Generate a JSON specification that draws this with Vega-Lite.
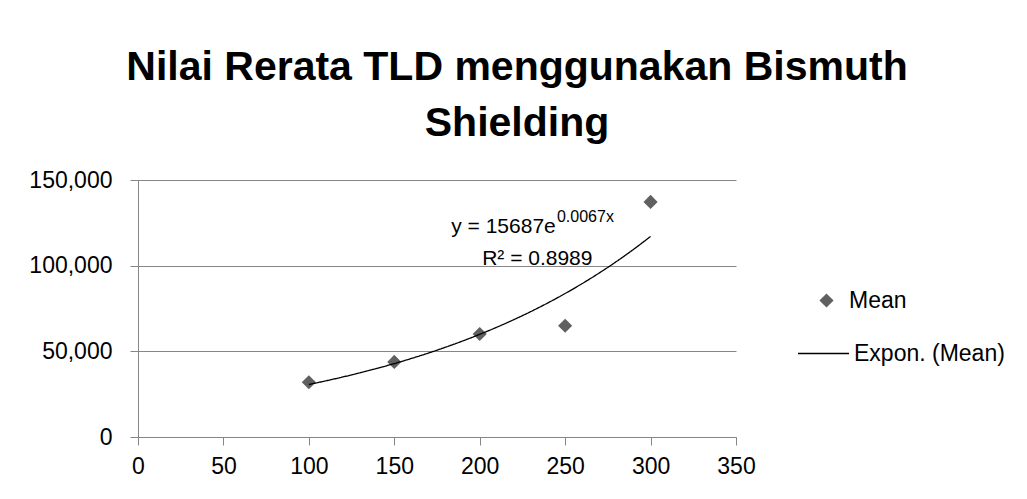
{
  "$schema": "https://vega.github.io/schema/vega-lite/v6.json",
  "width": 598,
  "height": 257,
  "autosize": "none",
  "padding": {"left": 138, "top": 180, "right": 291, "bottom": 62},
  "background": "white",
  "title": {
    "text": ["Nilai Rerata TLD menggunakan Bismuth", "Shielding"],
    "font": "Liberation Sans",
    "fontSize": 41,
    "fontWeight": "bold",
    "color": "#000000",
    "anchor": "middle",
    "frame": "group",
    "dx": 80,
    "lineHeight": 56,
    "offset": 24
  },
  "datasets": {
    "mean": [
      {"x": 100, "y": 31980},
      {"x": 150, "y": 43840},
      {"x": 200, "y": 60120},
      {"x": 250, "y": 64940},
      {"x": 300, "y": 137200}
    ],
    "trend": [
      {"x": 100, "y": 30656},
      {"x": 110, "y": 32780},
      {"x": 120, "y": 35052},
      {"x": 130, "y": 37481},
      {"x": 140, "y": 40078},
      {"x": 150, "y": 42855},
      {"x": 160, "y": 45825},
      {"x": 170, "y": 49000},
      {"x": 180, "y": 52396},
      {"x": 190, "y": 56027},
      {"x": 200, "y": 59909},
      {"x": 210, "y": 64061},
      {"x": 220, "y": 68500},
      {"x": 230, "y": 73246},
      {"x": 240, "y": 78322},
      {"x": 250, "y": 83749},
      {"x": 260, "y": 89554},
      {"x": 270, "y": 95758},
      {"x": 280, "y": 102394},
      {"x": 290, "y": 109490},
      {"x": 300, "y": 117077}
    ]
  },
  "config": {
    "view": {"stroke": null},
    "axis": {
      "labelFont": "Liberation Sans",
      "labelFontSize": 23,
      "labelColor": "#000000",
      "domainColor": "#868686",
      "tickColor": "#868686",
      "gridColor": "#868686",
      "domainWidth": 1,
      "tickWidth": 1,
      "gridWidth": 1,
      "tickSize": 8,
      "title": null
    },
    "legend": {
      "labelFont": "Liberation Sans",
      "labelFontSize": 23,
      "labelColor": "#000000",
      "padding": 0,
      "title": null
    }
  },
  "layer": [
    {
      "data": {"name": "mean"},
      "mark": {"type": "point", "filled": true, "color": "#606060", "opacity": 1, "size": 200},
      "encoding": {
        "x": {
          "field": "x", "type": "quantitative",
          "scale": {"domain": [0, 350], "nice": false},
          "axis": {"values": [0, 50, 100, 150, 200, 250, 300, 350], "grid": false, "labelPadding": 10, "labelFlush": false}
        },
        "y": {
          "field": "y", "type": "quantitative",
          "scale": {"domain": [0, 150000], "nice": false},
          "axis": {"values": [0, 50000, 100000, 150000], "format": ",d", "grid": true, "labelPadding": 18, "labelFlush": false}
        },
        "shape": {
          "datum": "Mean",
          "scale": {"range": ["diamond"]},
          "legend": {"orient": "none", "legendX": 677, "legendY": 109, "symbolSize": 200, "labelOffset": 11, "symbolFillColor": "#606060", "symbolStrokeWidth": 0}
        }
      }
    },
    {
      "data": {"name": "trend"},
      "mark": {"type": "line", "color": "#000000", "strokeWidth": 1.3, "interpolate": "monotone"},
      "encoding": {
        "x": {"field": "x", "type": "quantitative"},
        "y": {"field": "y", "type": "quantitative"},
        "strokeDash": {
          "datum": "Expon. (Mean)",
          "scale": {"range": [[1, 0]]},
          "legend": {"orient": "none", "legendX": 659, "legendY": 147, "symbolSize": 2601, "labelOffset": 4, "symbolStrokeColor": "#000000", "symbolStrokeWidth": 1.3}
        }
      }
    },
    {
      "data": {"values": [{}]},
      "mark": {"type": "text", "font": "Liberation Sans", "fontSize": 21, "align": "right", "baseline": "alphabetic", "color": "#000000"},
      "encoding": {
        "x": {"datum": 244.5, "type": "quantitative"},
        "y": {"datum": 119000, "type": "quantitative"},
        "text": {"value": "y = 15687e"}
      }
    },
    {
      "data": {"values": [{}]},
      "mark": {"type": "text", "font": "Liberation Sans", "fontSize": 16, "align": "left", "baseline": "alphabetic", "color": "#000000"},
      "encoding": {
        "x": {"datum": 245.2, "type": "quantitative"},
        "y": {"datum": 125400, "type": "quantitative"},
        "text": {"value": "0.0067x"}
      }
    },
    {
      "data": {"values": [{}]},
      "mark": {"type": "text", "font": "Liberation Sans", "fontSize": 21, "align": "center", "baseline": "alphabetic", "color": "#000000"},
      "encoding": {
        "x": {"datum": 233.7, "type": "quantitative"},
        "y": {"datum": 100400, "type": "quantitative"},
        "text": {"value": "R² = 0.8989"}
      }
    }
  ]
}
